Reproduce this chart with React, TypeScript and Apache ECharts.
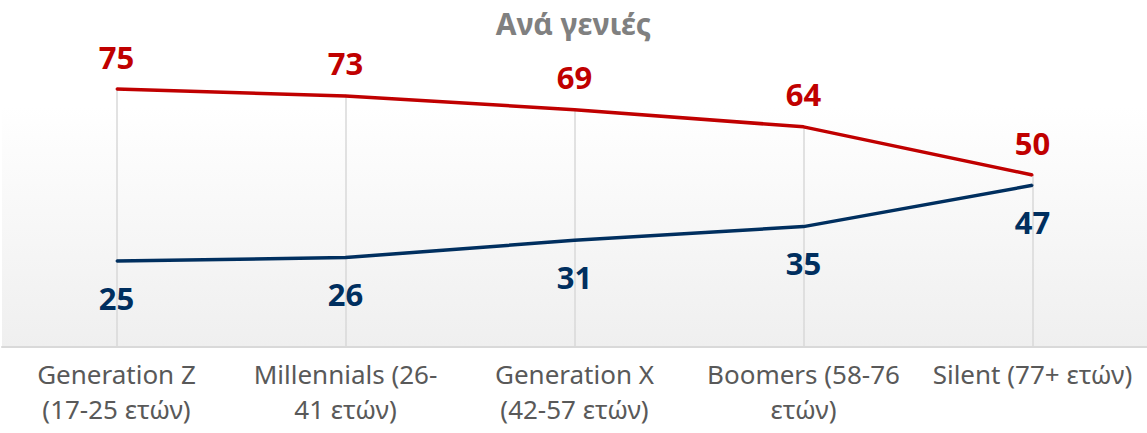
import React, { useEffect, useRef } from "react";
import * as echarts from "echarts";

const categories = [
  "Generation Z\n(17-25 ετών)",
  "Millennials (26-\n41 ετών)",
  "Generation X\n(42-57 ετών)",
  "Boomers (58-76\nετών)",
  "Silent (77+ ετών)",
];
const redValues = [75, 73, 69, 64, 50];
const navyValues = [25, 26, 31, 35, 47];
const titleText = "Ανά γενιές";

const FONT = "'Noto Sans', 'DejaVu Sans', sans-serif";

export default function App() {
  const ref = useRef<HTMLDivElement>(null);
  useEffect(() => {
    if (!ref.current) return;
    const chart = echarts.init(ref.current, undefined, { renderer: "svg" });
    const dropLines = redValues.map((v, i) => [
      { coord: [i, v] },
      { coord: [i, 0] },
    ]);
    chart.setOption({
      animation: false,
      backgroundColor: "#ffffff",
      title: {
        text: titleText,
        left: "center",
        top: 3,
        textStyle: {
          fontFamily: FONT,
          fontWeight: "bold",
          fontSize: 30,
          color: "#808080",
        },
      },
      grid: {
        left: 2,
        right: 0,
        top: 3,
        bottom: 86,
        show: true,
        borderWidth: 0,
        backgroundColor: new echarts.graphic.LinearGradient(0, 0, 0, 1, [
          { offset: 0, color: "#ffffff" },
          { offset: 0.3, color: "#ffffff" },
          { offset: 1, color: "#efefef" },
        ]),
      },
      xAxis: {
        type: "category",
        data: categories,
        boundaryGap: true,
        axisLine: { show: true, lineStyle: { color: "#d9d9d9", width: 2 } },
        axisTick: { show: false },
        splitLine: { show: false },
        axisLabel: {
          interval: 0,
          color: "#595959",
          fontFamily: FONT,
          fontSize: 26,
          lineHeight: 35,
          margin: 9,
        },
      },
      yAxis: {
        type: "value",
        min: 0,
        max: 100,
        show: false,
        splitLine: { show: false },
      },
      series: [
        {
          type: "line",
          data: redValues,
          z: 3,
          symbol: "circle",
          symbolSize: 2,
          lineStyle: { color: "#c00000", width: 3.5 },
          itemStyle: { color: "#c00000" },
          label: {
            show: true,
            position: "top",
            distance: 16,
            color: "#c00000",
            fontFamily: FONT,
            fontWeight: "bold",
            fontSize: 31,
          },
          markLine: {
            silent: true,
            symbol: ["none", "none"],
            label: { show: false },
            lineStyle: { color: "#d9d9d9", width: 1.5, type: "solid" },
            z: 1,
            data: dropLines,
          },
        },
        {
          type: "line",
          data: navyValues,
          z: 3,
          symbol: "circle",
          symbolSize: 2,
          lineStyle: { color: "#002f5f", width: 3.5 },
          itemStyle: { color: "#002f5f" },
          label: {
            show: true,
            position: "bottom",
            distance: 20,
            color: "#002f5f",
            fontFamily: FONT,
            fontWeight: "bold",
            fontSize: 31,
          },
        },
      ],
    });
    return () => chart.dispose();
  }, []);
  return (
    <div
      ref={ref}
      style={{ position: "fixed", left: 0, top: 0, width: 1147, height: 433 }}
    />
  );
}
